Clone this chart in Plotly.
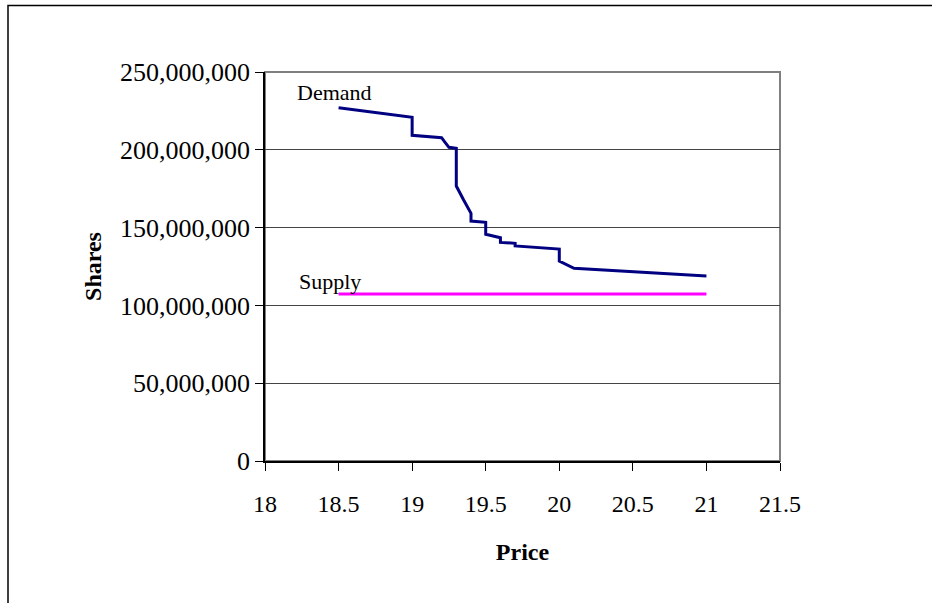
import plotly.graph_objects as go

# Data
demand_price = [18.5, 19.0, 19.0, 19.2, 19.22, 19.25, 19.3, 19.3, 19.35, 19.4, 19.4,
                19.5, 19.5, 19.6, 19.6, 19.7, 19.7, 20.0, 20.0, 20.1, 21.0]
demand_shares = [227.0e6, 220.9e6, 209.3e6, 207.8e6, 205.2e6, 201.6e6, 201.0e6, 176.7e6,
                 167.7e6, 159.2e6, 154.2e6, 153.4e6, 145.7e6, 143.5e6, 140.5e6, 139.9e6,
                 138.2e6, 136.2e6, 128.5e6, 123.8e6, 118.9e6]
supply_price = [18.5, 21.0]
supply_shares = [107.3e6, 107.3e6]

x_ticks = [18, 18.5, 19, 19.5, 20, 20.5, 21, 21.5]
y_ticks = [0, 50e6, 100e6, 150e6, 200e6, 250e6]

FONT = "Liberation Serif, Times New Roman, serif"

fig = go.Figure()
fig.add_trace(go.Scatter(x=demand_price, y=demand_shares, mode="lines", name="Demand",
                         line=dict(color="#000080", width=3), showlegend=False))
fig.add_trace(go.Scatter(x=supply_price, y=supply_shares, mode="lines", name="Supply",
                         line=dict(color="#FF00FF", width=3), showlegend=False))

fig.add_annotation(x=demand_price[0], y=demand_shares[0], text="Demand", showarrow=False,
                   xshift=-4, yshift=15, font=dict(family=FONT, size=22, color="black"))
fig.add_annotation(x=supply_price[0], y=supply_shares[0], text="Supply", showarrow=False,
                   xshift=-9, yshift=13, font=dict(family=FONT, size=22, color="black"))

# plot-area border (gray) and outer chart border
fig.add_shape(type="rect", xref="paper", yref="paper", x0=0, y0=0, x1=1, y1=1,
              line=dict(color="#808080", width=2), layer="below")
fig.add_shape(type="rect", xref="paper", yref="paper", x0=(8 - 265) / 515, y0=(461 - 5.5) / 389,
              x1=(940 - 265) / 515, y1=(461 - 610) / 389, line=dict(color="black", width=1.5))

fig.update_layout(
    width=932, height=603,
    margin=dict(l=265, r=152, t=72, b=142),
    paper_bgcolor="white", plot_bgcolor="white",
    font=dict(family=FONT, color="black"),
    xaxis=dict(range=[18, 21.5], tickvals=x_ticks, ticks="outside", ticklen=8,
               tickcolor="black", showline=True, linecolor="black", linewidth=1.5,
               showgrid=False, zeroline=False, tickfont=dict(size=24, family=FONT),
               ticklabelstandoff=12,
               title=dict(text="<b>Price</b>", font=dict(size=24, family=FONT), standoff=28)),
    yaxis=dict(range=[0, 250e6], tickvals=y_ticks, tickformat=",d", ticks="outside", ticklen=8,
               tickcolor="black", showline=True, linecolor="black", linewidth=1.5,
               showgrid=True, gridcolor="#444444", gridwidth=1, zeroline=False,
               tickfont=dict(size=26, family=FONT),
               title=dict(text="<b>Shares</b>", font=dict(size=24, family=FONT), standoff=12)),
)

fig.write_html("out.html", config={"displayModeBar": False},
               post_script="document.body.style.margin='0';")
